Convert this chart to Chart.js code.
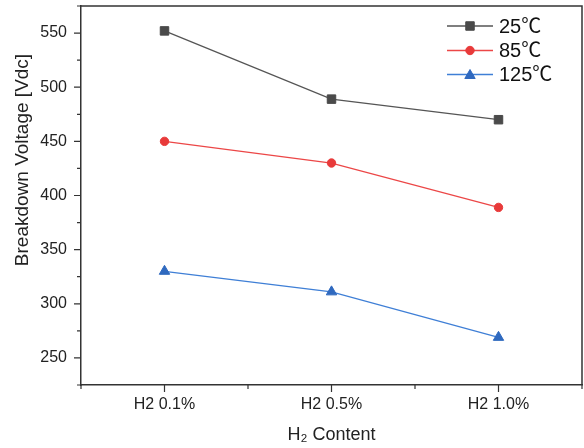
<!DOCTYPE html>
<html>
<head>
<meta charset="utf-8">
<script src="https://cdn.jsdelivr.net/npm/chart.js@4/dist/chart.umd.min.js"></script>
<style>
  html, body { margin: 0; padding: 0; background: #fff; }
  #wrap { width: 584px; height: 448px; }
</style>
</head>
<body>
<div id="wrap"><canvas id="firstChart" width="584" height="448"></canvas></div>
<script>
var categories = ["H2 0.1%", "H2 0.5%", "H2 1.0%"];
var seriesNames = ["25℃", "85℃", "125℃"];
var values25 = [552, 489, 470];
var values85 = [450, 430, 389];
var values125 = [330, 311, 269];
var yLabels = [250, 300, 350, 400, 450, 500, 550];

var fontFamily = "'Liberation Sans', Arial, 'Noto Sans CJK SC', sans-serif";

function toPoints(values) {
  var out = [];
  for (var i = 0; i < values.length; i++) {
    out.push({ x: i, y: values[i] });
  }
  return out;
}

function isWhole(v) {
  return Math.abs(v - Math.round(v)) < 1e-6;
}

function noPadding(scale) {
  scale.paddingTop = 0;
  scale.paddingBottom = 0;
  scale.paddingLeft = 0;
  scale.paddingRight = 0;
}

// tick marks, frame, y title and legend
var framePlugin = {
  id: 'frame',
  afterDraw: function(chart) {
    var ctx = chart.ctx;
    var area = chart.chartArea;
    var xs = chart.scales.x;
    var ys = chart.scales.y;

    ctx.save();
    ctx.strokeStyle = '#333';
    ctx.lineWidth = 1.5;
    ctx.beginPath();
    ctx.moveTo(area.left, area.top);
    ctx.lineTo(area.right, area.top);
    ctx.lineTo(area.right, area.bottom);
    ctx.stroke();

    ctx.lineWidth = 1.2;
    ctx.beginPath();
    for (var i = 0; i < xs.ticks.length; i++) {
      var v = xs.ticks[i].value;
      var px = xs.getPixelForValue(v);
      var len = isWhole(v) ? 7 : 4;
      ctx.moveTo(px, area.bottom);
      ctx.lineTo(px, area.bottom + len);
    }
    for (var j = 0; j < ys.ticks.length; j++) {
      var yv = ys.ticks[j].value;
      var py = ys.getPixelForValue(yv);
      var ylen = yLabels.indexOf(yv) >= 0 ? 7 : 4;
      ctx.moveTo(area.left, py);
      ctx.lineTo(area.left - ylen, py);
    }
    ctx.stroke();

    // y axis title
    ctx.fillStyle = '#222';
    ctx.font = '19px ' + fontFamily;
    ctx.textAlign = 'center';
    ctx.textBaseline = 'middle';
    ctx.translate(23, 160);
    ctx.rotate(-Math.PI / 2);
    ctx.fillText('Breakdown Voltage [Vdc]', 0, 0);
    ctx.restore();

    // legend
    ctx.save();
    var rows = [26, 50.5, 74.5];
    for (var k = 0; k < chart.data.datasets.length; k++) {
      var ds = chart.data.datasets[k];
      var ry = rows[k];
      ctx.strokeStyle = ds.borderColor;
      ctx.lineWidth = ds.borderWidth;
      ctx.beginPath();
      ctx.moveTo(447, ry);
      ctx.lineTo(493, ry);
      ctx.stroke();
      ctx.fillStyle = ds.pointBackgroundColor;
      ctx.strokeStyle = ds.pointBorderColor;
      ctx.lineWidth = 1;
      Chart.helpers.drawPoint(ctx, {
        pointStyle: ds.pointStyle,
        rotation: 0,
        radius: ds.pointRadius,
        borderWidth: 1
      }, 470, ry + (ds.pointStyle === 'triangle' ? 1 : 0));
      ctx.fillStyle = '#111';
      ctx.font = '20px ' + fontFamily;
      ctx.textAlign = 'left';
      ctx.textBaseline = 'middle';
      ctx.fillText(ds.label, 499, ry + 1);
    }
    ctx.restore();
  }
};

function drawChart() {

  Chart.defaults.font.family = fontFamily;
  Chart.defaults.color = '#222';

  var ctx = document.getElementById('firstChart').getContext('2d');
  var chart = new Chart(ctx, {

    type: 'line',

    data: {
      datasets: [{
        label: seriesNames[0],
        data: toPoints(values25),
        borderColor: '#555555',
        borderWidth: 1.3,
        pointStyle: 'rect',
        pointRadius: 6,
        pointBackgroundColor: '#4a4a4a',
        pointBorderColor: '#4a4a4a',
        pointBorderWidth: 1
      }, {
        label: seriesNames[1],
        data: toPoints(values85),
        borderColor: '#ec4747',
        borderWidth: 1.3,
        pointStyle: 'circle',
        pointRadius: 4.2,
        pointBackgroundColor: '#e83a3a',
        pointBorderColor: '#e83a3a',
        pointBorderWidth: 1
      }, {
        label: seriesNames[2],
        data: toPoints(values125),
        borderColor: '#3f7fd6',
        borderWidth: 1.3,
        pointStyle: 'triangle',
        pointRadius: 6,
        pointBackgroundColor: '#2f69bf',
        pointBorderColor: '#2f69bf',
        pointBorderWidth: 1
      }]
    },

    options: {
      responsive: false,
      animation: false,
      layout: { autoPadding: false, padding: { top: 6, right: 2, left: 0, bottom: 0 } },
      plugins: {
        legend: { display: false },
        tooltip: { enabled: false }
      },
      scales: {
        x: {
          type: 'linear',
          min: -0.5,
          max: 2.5,
          afterFit: function(scale) { scale.height = 63; noPadding(scale); },
          border: { display: true, color: '#333', width: 1.5 },
          grid: { drawOnChartArea: false, drawTicks: false },
          ticks: {
            stepSize: 0.5,
            padding: 10,
            autoSkip: false,
            maxRotation: 0,
            color: '#222',
            font: { size: 16 },
            callback: function(value) {
              return isWhole(value) ? categories[Math.round(value)] : '';
            }
          },
          title: {
            display: true,
            text: 'H₂ Content',
            color: '#222',
            font: { size: 18 },
            padding: { top: 0, bottom: 2 }
          }
        },
        y: {
          min: 225,
          max: 575,
          afterFit: function(scale) { scale.width = 81; noPadding(scale); },
          border: { display: true, color: '#333', width: 1.5 },
          grid: { drawOnChartArea: false, drawTicks: false },
          ticks: {
            stepSize: 25,
            padding: 14,
            autoSkip: false,
            color: '#222',
            font: { size: 16 },
            callback: function(value) {
              return yLabels.indexOf(value) >= 0 ? value : '';
            }
          }
        }
      }
    },

    plugins: [framePlugin]
  });
}

drawChart();
</script>
</body>
</html>
